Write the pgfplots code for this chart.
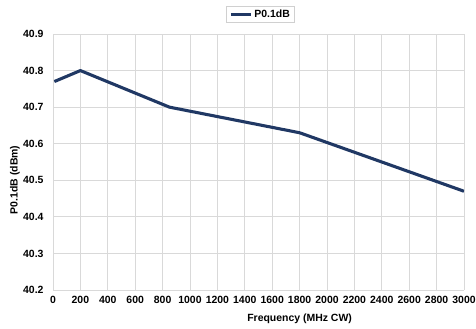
\documentclass[border=0pt]{standalone}
\usepackage{pgfplots}
\pgfplotsset{compat=1.18}
\usepackage{fontspec}
\setmainfont{Liberation Sans}
\definecolor{navy}{HTML}{203864}
\definecolor{gridgray}{HTML}{D9D9D9}
\definecolor{legborder}{HTML}{D0D0D0}
\newcommand{\lblfont}{\fontsize{10.5}{12}\selectfont\bfseries}
\begin{document}
\begin{tikzpicture}
% fixed page frame around the plot area
\useasboundingbox (-53bp,-39bp) rectangle (423bp,290bp);
\begin{axis}[
  at={(0,0)}, anchor=south west,
  scale only axis,
  width=411bp, height=256bp,
  xmin=0, xmax=3000, ymin=40.2, ymax=40.9,
  xtick={0,200,...,3000},
  ytick={40.2,40.3,...,40.9},
  yticklabel style={/pgf/number format/.cd, fixed, fixed zerofill, precision=1},
  /pgf/number format/assume math mode=true,
  scaled x ticks=false,
  xticklabel style={/pgf/number format/.cd, set thousands separator={}},
  ticklabel style={font=\lblfont},
  label style={font=\lblfont},
  xlabel={Frequency (MHz CW)},
  ylabel={P0.1dB (dBm)},
  xlabel style={at={(axis description cs:0.6,0)}, anchor=north, yshift=-20bp},
  ylabel style={at={(axis description cs:-0.072,0.43)}, anchor=south},
  grid=major,
  major grid style={gridgray, line width=1pt},
  axis x line*=bottom, axis y line*=left,
  axis line style={gridgray, line width=1pt, -},
  tick style={draw=none},
  xticklabel shift=3bp,
  yticklabel shift=6bp,
  legend style={at={(axis description cs:0.505,1)}, anchor=south, yshift=11bp,
    draw=legborder, line width=1pt, font=\lblfont,
    inner xsep=3bp, inner ysep=1.5bp},
  legend image code/.code={\draw[#1, line width=3.1pt] (0bp,0bp) -- (20bp,0bp);},
]
\addplot[navy, line width=3.1pt, line join=round] coordinates {
  (10,40.77) (200,40.80) (850,40.70) (1800,40.63) (3000,40.47)
};
\addlegendentry{P0.1dB}
\end{axis}
\end{tikzpicture}
\end{document}
